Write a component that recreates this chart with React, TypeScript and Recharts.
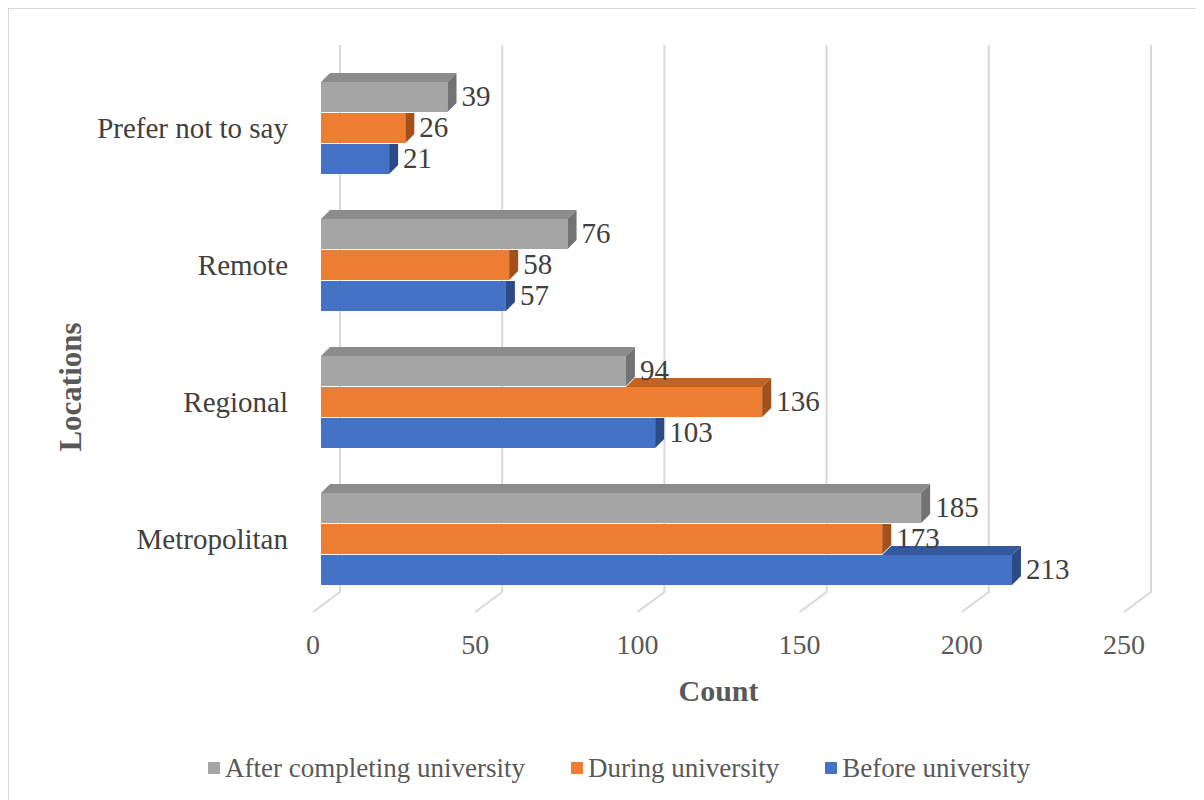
import React from 'react';
import { BarChart, Bar, XAxis, YAxis, CartesianGrid, Legend, LabelList, Label } from 'recharts';

const categories = ['Prefer not to say', 'Remote', 'Regional', 'Metropolitan'];
const afterUni = [39, 76, 94, 185];
const duringUni = [26, 58, 136, 173];
const beforeUni = [21, 57, 103, 213];
const countTicks = [0, 50, 100, 150, 200, 250];

const series = [
  { key: 'after', name: 'After completing university', front: '#a5a5a5', top: '#8c8c8c', side: '#737373', upper: null },
  { key: 'during', name: 'During university', front: '#ed7d31', top: '#c5621f', side: '#a3501a', upper: 'after' },
  { key: 'before', name: 'Before university', front: '#4472c4', top: '#34599e', side: '#2c4b86', upper: 'during' },
];

const data = categories.map((name, i) => ({
  name,
  after: afterUni[i],
  during: duringUni[i],
  before: beforeUni[i],
}));

const DEPTH = 9;
const FONT = '"Liberation Serif", "Times New Roman", serif';

const pts = (arr: number[][]) => arr.map((p) => p.join(',')).join(' ');

// fake 3D box: front face, top face (only where not covered by the bar above), right side
const make3D = (s: typeof series[number]) => (props: any) => {
  const { x, y, width: w, height: h, payload } = props;
  const d = DEPTH;
  let uw = -1;
  if (s.upper && payload[s.key] > 0) {
    uw = (w * payload[s.upper]) / payload[s.key];
  }
  const covered = s.upper && uw >= w;
  const xs = s.upper ? x + uw : x;
  return (
    <g>
      <rect x={x} y={y} width={w} height={h} fill={s.front} />
      {!covered && (
        <polygon points={pts([[xs, y], [xs + d, y - d], [x + w + d, y - d], [x + w, y]])} fill={s.top} />
      )}
      {covered ? (
        <polygon points={pts([[x + w, y], [x + w + d, y], [x + w + d, y + h - d], [x + w, y + h]])} fill={s.side} />
      ) : (
        <polygon points={pts([[x + w, y], [x + w + d, y - d], [x + w + d, y + h - d], [x + w, y + h]])} fill={s.side} />
      )}
    </g>
  );
};

const renderValue = (props: any) => {
  const { x, y, width, height, value } = props;
  return (
    <text
      x={x + width + DEPTH + 5}
      y={y + height / 2 - 1}
      dominantBaseline="central"
      fill="#404040"
      fontSize={29}
      fontFamily={FONT}
    >
      {value}
    </text>
  );
};

const gridLine = (props: any) => {
  const { x1, y1, y2, index } = props;
  return (
    <path
      key={`g-${index}`}
      d={`M${x1 + 19},${y1 - 14} L${x1 + 19},${y2 - 15} L${x1 - 8},${y2 + 5}`}
      stroke="#d9d9d9"
      strokeWidth={2}
      fill="none"
    />
  );
};

const renderLegend = () => (
  <div
    style={{
      display: 'flex',
      alignItems: 'center',
      height: 36,
      paddingLeft: 199,
      fontFamily: FONT,
      fontSize: 27,
      color: '#595959',
      whiteSpace: 'nowrap',
    }}
  >
    {series.map((s) => (
      <div key={s.key} style={{ display: 'flex', alignItems: 'center', marginRight: 46 }}>
        <span style={{ display: 'inline-block', width: 12, height: 12, background: s.front, marginRight: 5 }} />
        <span>{s.name}</span>
      </div>
    ))}
  </div>
);

export default function App() {
  return (
    <div
      style={{
        marginLeft: -1,
        marginTop: -1,
        width: 1200,
        height: 800,
        borderTop: '2px solid #d9d9d9',
        borderLeft: '2px solid #d9d9d9',
        boxSizing: 'border-box',
        background: '#fff',
      }}
    >
      <BarChart
        width={1186}
        height={790}
        data={data}
        layout="vertical"
        margin={{ top: 50, right: 63, bottom: 13, left: 0 }}
        barCategoryGap={23}
        barGap={1}
      >
        <CartesianGrid horizontal={false} vertical={gridLine} />
        <XAxis
          type="number"
          domain={[0, 250]}
          ticks={countTicks}
          axisLine={false}
          tickLine={false}
          tickSize={0}
          tickMargin={27}
          height={143}
          tick={{ fill: '#595959', fontSize: 28, fontFamily: FONT, dx: -8 }}
        >
          <Label
            content={({ viewBox }: any) => (
              <text
                x={viewBox.x + viewBox.width / 2 - 8}
                y={viewBox.y + 83}
                textAnchor="middle"
                dominantBaseline="central"
                fontWeight="bold"
                fontSize={30}
                fontFamily={FONT}
                fill="#595959"
              >
                Count
              </text>
            )}
          />
        </XAxis>
        <YAxis
          type="category"
          dataKey="name"
          width={312}
          axisLine={false}
          tickLine={false}
          tickSize={0}
          tickMargin={33}
          tick={{ fill: '#404040', fontSize: 29, fontFamily: FONT }}
        >
          <Label
            content={({ viewBox }: any) => {
              const cx = 61;
              const cy = viewBox.y + viewBox.height / 2 + 54;
              return (
                <text
                  x={cx}
                  y={cy}
                  transform={`rotate(-90 ${cx} ${cy})`}
                  textAnchor="middle"
                  dominantBaseline="central"
                  fontWeight="bold"
                  fontSize={31}
                  fontFamily={FONT}
                  fill="#595959"
                >
                  Locations
                </text>
              );
            }}
          />
        </YAxis>
        <Legend verticalAlign="bottom" content={renderLegend} wrapperStyle={{ left: 0, width: 1186 }} />
        {series.map((s) => (
          <Bar key={s.key} dataKey={s.key} name={s.name} shape={make3D(s)} isAnimationActive={false}>
            <LabelList dataKey={s.key} content={renderValue} />
          </Bar>
        ))}
      </BarChart>
    </div>
  );
}
